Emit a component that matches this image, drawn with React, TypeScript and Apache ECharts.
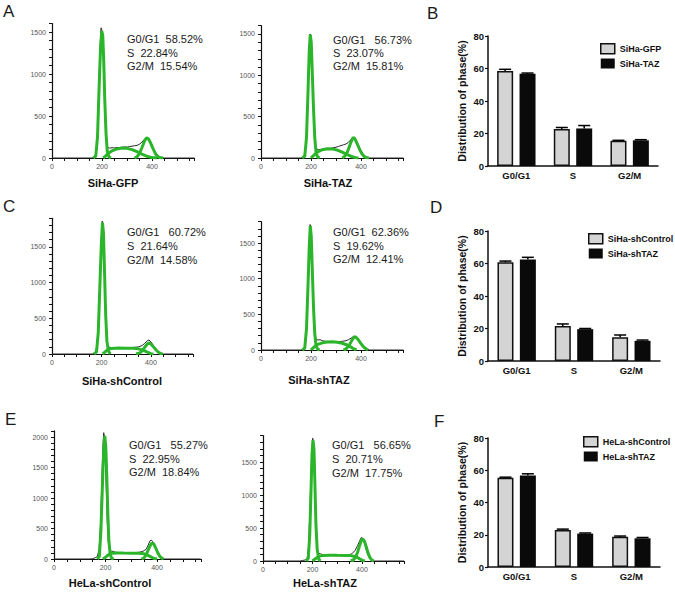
import React, { useEffect, useRef } from 'react';
import * as echarts from 'echarts';

// ---------- Histogram data (DNA content, cell count) ----------
// A: SiHa-GFP
const aRaw = [[0,0],[160,0],[170,10],[176,60],[182,300],[187,800],[192,1300],[196,1550],[199,1530],[202,1470],[206,1150],[210,700],[214,350],[218,170],[222,125],[230,118],[240,122],[250,120],[260,126],[270,124],[280,128],[290,132],[300,130],[310,136],[320,140],[330,146],[340,150],[350,165],[360,190],[370,225],[378,242],[386,232],[394,195],[402,140],[410,85],[420,40],[430,15],[440,4],[450,0],[570,0]];
const aG1 = [[165,0],[175,20],[182,250],[188,800],[194,1300],[199,1510],[203,1460],[207,1150],[211,700],[216,300],[221,80],[228,10],[236,0]];
const aS = [[205,0],[215,25],[225,55],[240,85],[260,108],[280,118],[300,115],[320,100],[340,75],[360,45],[380,20],[400,5],[420,0]];
const aG2 = [[330,0],[340,15],[350,55],[360,125],[370,200],[378,240],[386,228],[395,175],[405,105],[415,45],[425,12],[435,2],[445,0]];
// A: SiHa-TAZ
const a2Raw = [[0,0],[160,0],[170,10],[178,80],[184,400],[189,900],[193,1300],[196,1500],[199,1480],[203,1250],[207,850],[211,450],[216,200],[221,110],[230,100],[240,105],[250,110],[260,112],[270,115],[280,118],[290,125],[300,130],[310,140],[320,150],[330,160],[340,170],[350,190],[360,225],[368,250],[376,240],[385,190],[395,120],[405,60],[415,25],[425,8],[435,0],[570,0]];
const a2G1 = [[165,0],[175,20],[182,250],[188,800],[193,1300],[197,1490],[201,1400],[205,1050],[210,600],[215,250],[220,70],[227,10],[235,0]];
const a2S = [[200,0],[210,30],[225,70],[245,100],[265,112],[285,110],[305,95],[325,70],[345,40],[365,15],[380,3],[390,0]];
const a2G2 = [[325,0],[335,20],[345,70],[355,150],[363,215],[369,250],[375,235],[385,170],[395,100],[405,45],[415,12],[425,2],[432,0]];
// C: SiHa-shControl
const cRaw = [[0,0],[165,0],[175,15],[182,120],[188,500],[194,1100],[199,1600],[203,1860],[206,1820],[209,1550],[213,1000],[217,500],[221,200],[226,100],[235,92],[250,88],[270,86],[290,85],[310,88],[330,92],[350,100],[365,120],[375,150],[385,185],[392,195],[400,170],[410,120],[420,70],[430,35],[440,12],[450,0],[570,0]];
const cG1 = [[170,0],[180,30],[187,300],[193,900],[199,1500],[204,1840],[208,1700],[212,1200],[217,550],[222,180],[228,40],[236,0]];
const cS = [[205,0],[215,30],[225,60],[240,78],[270,84],[300,82],[330,80],[350,72],[370,50],[385,25],[400,5],[410,0]];
const cG2 = [[340,0],[355,15],[365,45],[375,95],[385,140],[392,155],[400,140],[410,100],[420,60],[430,25],[440,5],[448,0]];
// C: SiHa-shTAZ
const c2Raw = [[0,0],[160,0],[170,10],[178,80],[184,450],[189,1000],[193,1450],[196,1760],[199,1740],[203,1400],[207,900],[211,450],[216,220],[221,150],[228,140],[236,145],[245,130],[255,125],[265,120],[280,118],[295,115],[310,118],[325,122],[340,130],[350,145],[360,165],[368,185],[376,190],[385,160],[395,110],[405,60],[415,25],[425,8],[435,0],[570,0]];
const c2G1 = [[165,0],[175,25],[182,300],[188,900],[193,1450],[197,1740],[201,1600],[205,1150],[210,600],[215,230],[220,60],[227,8],[235,0]];
const c2S = [[200,0],[210,35],[225,75],[245,100],[265,113],[285,115],[305,108],[325,95],[345,70],[360,40],[372,15],[382,0]];
const c2G2 = [[330,0],[340,15],[350,50],[358,100],[366,150],[373,185],[380,180],[390,140],[400,90],[410,45],[420,15],[428,0]];
// E: HeLa-shControl
const eRaw = [[0,0],[140,0],[150,5],[160,20],[168,40],[175,150],[181,600],[186,1300],[190,1850],[193,2070],[196,2000],[199,1700],[203,1150],[207,600],[211,280],[216,150],[222,130],[230,125],[240,110],[255,105],[270,100],[285,98],[300,100],[315,105],[330,110],[345,125],[358,160],[366,230],[373,300],[378,310],[384,280],[390,230],[396,160],[404,80],[412,30],[420,8],[430,0],[570,0]];
const eG1 = [[168,0],[176,40],[182,450],[188,1200],[193,1800],[197,2020],[201,1850],[205,1350],[209,750],[213,300],[218,80],[224,10],[232,0]];
const eS = [[190,0],[200,30],[212,70],[225,95],[245,100],[270,98],[300,96],[330,95],[350,85],[365,60],[378,30],[390,8],[400,0]];
const eG2 = [[340,0],[350,20],[358,70],[366,150],[374,225],[381,262],[388,245],[395,180],[402,110],[410,50],[418,15],[426,0]];
// E: HeLa-shTAZ
const e2Raw = [[0,0],[150,0],[160,8],[170,15],[178,30],[184,200],[189,700],[194,1300],[198,1700],[201,1860],[204,1800],[207,1450],[211,900],[215,450],[219,200],[224,120],[232,110],[242,95],[255,88],[270,85],[285,82],[300,80],[315,82],[330,85],[345,90],[360,110],[372,160],[382,230],[390,300],[397,355],[403,345],[409,290],[415,200],[422,110],[430,45],[438,12],[446,0],[570,0]];
const e2G1 = [[175,0],[183,40],[189,400],[194,1050],[198,1600],[202,1830],[206,1700],[210,1150],[214,550],[219,180],[225,30],[232,0]];
const e2S = [[200,0],[212,35],[225,70],[245,85],[270,88],[300,86],[330,85],[355,82],[375,65],[390,35],[402,10],[412,0]];
const e2G2 = [[355,0],[365,15],[375,60],[383,140],[391,240],[398,315],[404,333],[410,300],[417,220],[424,130],[432,55],[440,12],[448,0]];

const histNames = ['SiHa-GFP', 'SiHa-TAZ', 'SiHa-shControl', 'SiHa-shTAZ', 'HeLa-shControl', 'HeLa-shTAZ'];
const histYMax = [1600, 1600, 1900, 1800, 2100, 1900];
const statLines = [
  ['G0/G1  58.52%', 'S  22.84%', 'G2/M  15.54%'],
  ['G0/G1   56.73%', 'S  23.07%', 'G2/M  15.81%'],
  ['G0/G1   60.72%', 'S  21.64%', 'G2/M  14.58%'],
  ['G0/G1  62.36%', 'S  19.62%', 'G2/M  12.41%'],
  ['G0/G1   55.27%', 'S  22.95%', 'G2/M  18.84%'],
  ['G0/G1   56.65%', 'S  20.71%', 'G2/M  17.75%'],
];
const histX = [0, 200, 400];

// ---------- Bar chart data (% of cells in phase) ----------
const phases = ['G0/G1', 'S', 'G2/M'];
const bNames = ['SiHa-GFP', 'SiHa-TAZ'];
const bCtrl = [58.5, 22.8, 15.5];
const bCtrlErr = [1.0, 0.9, 0.3];
const bTreat = [56.7, 23.1, 15.8];
const bTreatErr = [0.5, 1.8, 0.4];
const dNames = ['SiHa-shControl', 'SiHa-shTAZ'];
const dCtrl = [60.7, 21.6, 14.6];
const dCtrlErr = [0.8, 1.2, 1.4];
const dTreat = [62.4, 19.6, 12.4];
const dTreatErr = [1.4, 0.4, 0.5];
const fNames = ['HeLa-shControl', 'HeLa-shTAZ'];
const fCtrl = [55.3, 23.0, 18.8];
const fCtrlErr = [0.4, 0.5, 0.4];
const fTreat = [56.7, 20.7, 17.8];
const fTreatErr = [1.1, 0.4, 0.5];
const barTicks = [0, 20, 40, 60, 80];

const FONT = '"Liberation Sans", Arial, Helvetica, sans-serif';
const GREEN = '#2bb52b';
const GRAY = '#d4d4d4';

const histPanels = [
  { raw: aRaw, g1: aG1, s: aS, g2: aG2, grid: { left: 52, top: 23.6, width: 142.5, height: 134.4 }, stat: [127, 39, 13.5], label: [113, 183] },
  { raw: a2Raw, g1: a2G1, s: a2S, g2: a2G2, grid: { left: 261, top: 25.7, width: 142.5, height: 132.3 }, stat: [333, 40, 13], label: [328, 183] },
  { raw: cRaw, g1: cG1, s: cS, g2: cG2, grid: { left: 52, top: 218.3, width: 141, height: 135.7 }, stat: [127, 232, 14], label: [122, 381] },
  { raw: c2Raw, g1: c2G1, s: c2S, g2: c2G2, grid: { left: 261, top: 221.7, width: 142.5, height: 128.3 }, stat: [333, 232, 13.5], label: [319, 380] },
  { raw: eRaw, g1: eG1, s: eS, g2: eG2, grid: { left: 54, top: 430.9, width: 146.8, height: 128.1 }, stat: [129, 445, 13.5], label: [110, 583] },
  { raw: e2Raw, g1: e2G1, s: e2S, g2: e2G2, grid: { left: 263, top: 435.6, width: 141, height: 125.4 }, stat: [332, 445, 14], label: [325, 583] },
];

const barPanels = [
  { names: bNames, v1: bCtrl, e1: bCtrlErr, v2: bTreat, e2: bTreatErr, grid: { left: 488, top: 36, width: 170, height: 130 }, legend: { left: 595, top: 38 } },
  { names: dNames, v1: dCtrl, e1: dCtrlErr, v2: dTreat, e2: dTreatErr, grid: { left: 488, top: 231, width: 172, height: 130 }, legend: { left: 583, top: 228 } },
  { names: fNames, v1: fCtrl, e1: fCtrlErr, v2: fTreat, e2: fTreatErr, grid: { left: 488, top: 438, width: 172, height: 129 }, legend: { left: 578, top: 431 } },
];

const letters = [
  ['A', 3, 11], ['B', 427, 13], ['C', 3, 206], ['D', 430, 207.5], ['E', 5, 419], ['F', 434, 421],
];

function buildOption() {
  const grid: any[] = [];
  const xAxis: any[] = [];
  const yAxis: any[] = [];
  const series: any[] = [];
  const legend: any[] = [];
  const graphic: any[] = [];

  histPanels.forEach((p, i) => {
    grid.push({ ...p.grid, containLabel: false });
    xAxis.push({
      gridIndex: i, type: 'value', min: 0, max: 570, interval: 50,
      axisLine: { lineStyle: { color: '#111', width: 1.2 } },
      axisTick: { length: 3, lineStyle: { color: '#111', width: 1 } },
      axisLabel: {
        fontSize: 7, color: '#555', margin: 5, fontFamily: FONT,
        formatter: (v: number) => (histX.indexOf(v) >= 0 ? String(v) : ''),
      },
      splitLine: { show: false },
    });
    yAxis.push({
      gridIndex: i, type: 'value', min: 0, max: histYMax[i], interval: 100,
      axisLine: { show: true, lineStyle: { color: '#111', width: 1.2 } },
      axisTick: { show: true, length: 3, lineStyle: { color: '#111', width: 1 } },
      axisLabel: {
        fontSize: 7, color: '#555', margin: 6, fontFamily: FONT,
        formatter: (v: number) => (v % 500 === 0 ? String(v) : ''),
      },
      splitLine: { show: false },
    });
    const base = { type: 'line', xAxisIndex: i, yAxisIndex: i, symbol: 'none', showSymbol: false, silent: true };
    series.push({ ...base, data: p.raw, lineStyle: { color: '#2a2a2a', width: 1 }, z: 1 });
    series.push({ ...base, data: p.s, lineStyle: { color: GREEN, width: 3 }, z: 2 });
    series.push({ ...base, data: p.g2, lineStyle: { color: GREEN, width: 3 }, z: 2 });
    series.push({ ...base, data: p.g1, lineStyle: { color: GREEN, width: 3 }, z: 2 });

    statLines[i].forEach((t, k) => {
      graphic.push({
        type: 'text', x: p.stat[0], y: p.stat[1] + k * p.stat[2],
        style: { text: t, font: `11px ${FONT}`, fill: '#1a1a1a', textAlign: 'left', textVerticalAlign: 'middle', align: 'left', verticalAlign: 'middle' },
      });
    });
    graphic.push({
      type: 'text', x: p.label[0], y: p.label[1],
      style: { text: histNames[i], font: `bold 11px ${FONT}`, fill: '#111', textAlign: 'center', textVerticalAlign: 'middle', align: 'center', verticalAlign: 'middle' },
    });
  });

  const errRender = (params: any, api: any) => {
    const k = api.value(0);
    const v = api.value(1);
    const e = api.value(2);
    const side = api.value(3);
    const p0 = api.coord([k, v]);
    const p1 = api.coord([k, v + e]);
    const x = p0[0] + side * 11.2;
    return {
      type: 'group',
      children: [
        { type: 'line', shape: { x1: x, y1: p0[1], x2: x, y2: p1[1] }, style: { stroke: '#000', lineWidth: 1.5 } },
        { type: 'line', shape: { x1: x - 6, y1: p1[1], x2: x + 6, y2: p1[1] }, style: { stroke: '#000', lineWidth: 1.5 } },
      ],
    };
  };

  barPanels.forEach((p, j) => {
    const gi = histPanels.length + j;
    grid.push({ ...p.grid, containLabel: false });
    xAxis.push({
      gridIndex: gi, type: 'category', data: phases,
      axisLine: { lineStyle: { color: '#111', width: 1.5 } },
      axisTick: { show: false },
      axisLabel: { fontSize: 9.5, fontWeight: 'bold', color: '#111', margin: 4, fontFamily: FONT },
      splitLine: { show: false },
    });
    yAxis.push({
      gridIndex: gi, type: 'value', min: barTicks[0], max: barTicks[barTicks.length - 1], interval: 20,
      name: 'Distribution of phase(%)', nameLocation: 'middle', nameGap: 21, nameRotate: 90,
      nameTextStyle: { fontSize: 10.5, fontWeight: 'bold', color: '#111', fontFamily: FONT },
      axisLine: { show: true, lineStyle: { color: '#111', width: 1.5 } },
      axisTick: { show: true, length: 3, lineStyle: { color: '#111', width: 1.2 } },
      axisLabel: { fontSize: 9.5, fontWeight: 'bold', color: '#111', margin: 4, fontFamily: FONT },
      splitLine: { show: false },
    });
    series.push({
      type: 'bar', name: p.names[0], xAxisIndex: gi, yAxisIndex: gi, data: p.v1,
      barWidth: 16, barGap: '40%',
      itemStyle: { color: GRAY, borderColor: '#111', borderWidth: 1.5 },
    });
    series.push({
      type: 'bar', name: p.names[1], xAxisIndex: gi, yAxisIndex: gi, data: p.v2,
      barWidth: 16, barGap: '40%',
      itemStyle: { color: '#0a0a0a' },
    });
    series.push({
      type: 'custom', xAxisIndex: gi, yAxisIndex: gi, z: 10, silent: true,
      encode: { x: 0, y: 1 },
      data: phases.map((_, k) => [k, p.v1[k], p.e1[k], -1]).concat(phases.map((_, k) => [k, p.v2[k], p.e2[k], 1])),
      renderItem: errRender,
    });
    legend.push({
      left: p.legend.left, top: p.legend.top, orient: 'vertical',
      itemWidth: 14, itemHeight: 10, itemGap: 4, icon: 'rect', selectedMode: false,
      textStyle: { fontFamily: FONT, fontWeight: 'bold', fontSize: 9, color: '#111' },
      data: [
        { name: p.names[0], itemStyle: { color: GRAY, borderColor: '#111', borderWidth: 1.5 } },
        { name: p.names[1], itemStyle: { color: '#0a0a0a' } },
      ],
    });
  });

  letters.forEach(([t, x, y]) => {
    graphic.push({
      type: 'text', x, y,
      style: { text: t, font: `17px ${FONT}`, fill: '#1a1a1a', textAlign: 'left', textVerticalAlign: 'middle', align: 'left', verticalAlign: 'middle' },
    });
  });

  return {
    animation: false,
    backgroundColor: '#ffffff',
    grid, xAxis, yAxis, series, legend, graphic,
  };
}

export default function App() {
  const ref = useRef<HTMLDivElement>(null);
  useEffect(() => {
    if (!ref.current) return;
    const chart = echarts.init(ref.current, null, { renderer: 'svg' });
    chart.setOption(buildOption() as any);
    return () => chart.dispose();
  }, []);
  return (
    <div
      ref={ref}
      style={{ position: 'fixed', left: 0, top: 0, width: 675, height: 592, background: '#fff' }}
    />
  );
}
